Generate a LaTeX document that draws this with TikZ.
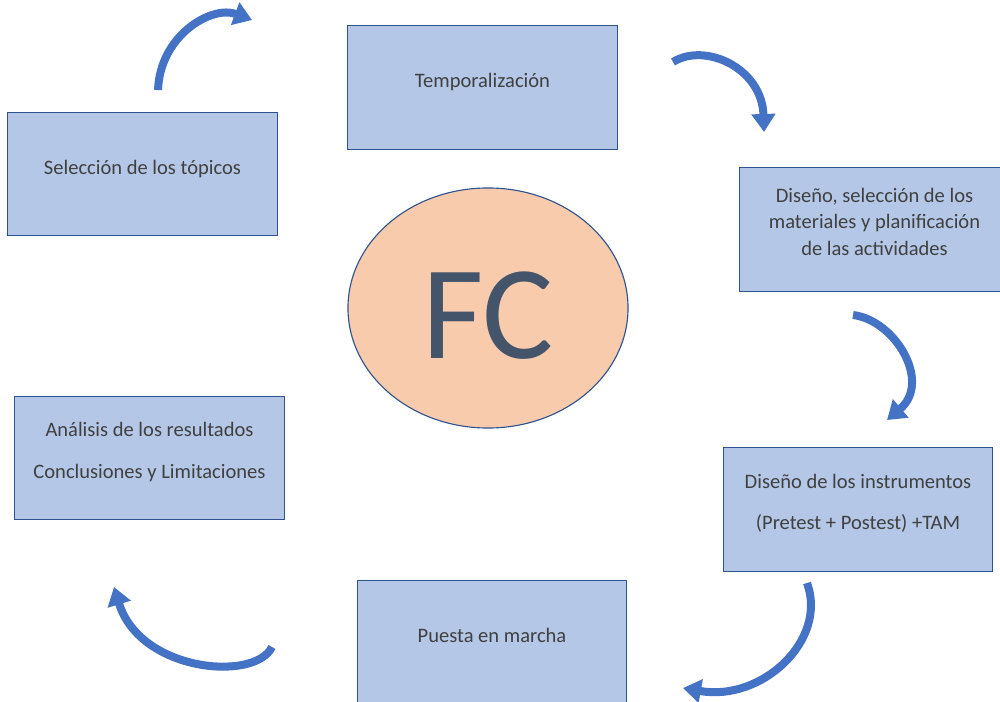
\documentclass[tikz,border=0pt]{standalone}
\usepackage{fontspec}
\setmainfont{Carlito}
\usetikzlibrary{shapes.geometric,arrows.meta}
\definecolor{cajaazul}{HTML}{B4C7E7}
\definecolor{bordeazul}{HTML}{2F528F}
\definecolor{flechaazul}{HTML}{4472C4}
\definecolor{elipsenaranja}{HTML}{F8CBAD}
\definecolor{textogris}{HTML}{404040}
\definecolor{fcgris}{HTML}{44546A}

\begin{document}
\begin{tikzpicture}[x=0.025cm, y=-0.025cm,
  caja/.style={draw=bordeazul, line width=0.8pt, fill=cajaazul, align=center,
               text=textogris, font=\fontsize{14.6}{18.8}\selectfont,
               inner sep=0pt, minimum width=6.74cm, minimum height=3.08cm},
  unalinea/.style={caja, text depth=10pt},
  variaslineas/.style={caja, text depth=11pt},
  fc/.style={ellipse, draw=bordeazul, line width=0.8pt, fill=elipsenaranja,
             text=fcgris, font=\fontsize{95}{100}\selectfont, inner sep=0pt,
             minimum width=7cm, minimum height=6cm, text height=72pt, text depth=0pt},
  flecha/.style={line width=0.2cm, draw=flechaazul,
                 -{Triangle[width=0.58cm, length=0.45cm]}}
]
  \useasboundingbox (0,0) rectangle (1000,702);

  \node[unalinea]     (tempo)        at (482.5, 87.5) {Temporalización};
  \node[unalinea]     (topicos)      at (142.5, 174)  {Selección de los tópicos};
  \node[variaslineas] (materiales)   at (874.5, 229.5)
       {Diseño, selección de los\\ materiales y planificación\\ de las actividades};
  \node[variaslineas] (instrumentos) at (858, 509.5)
       {Diseño de los instrumentos\\[10.6pt] (Pretest + Postest) +TAM};
  \node[unalinea]     (marcha)       at (492, 642.5)  {Puesta en marcha};
  \node[variaslineas] (analisis)     at (149.5, 458)
       {Análisis de los resultados\\[10.6pt] Conclusiones y Limitaciones};

  \node[fc] (fc) at (488, 308) {FC};

  % flechas curvas del ciclo
  \coordinate (c1a) at (158, 90);   \coordinate (c1b) at (252, 20);
  \coordinate (c2a) at (673, 62);   \coordinate (c2b) at (764, 132);
  \coordinate (c3a) at (853, 315);  \coordinate (c3b) at (887, 420);
  \coordinate (c4a) at (807, 583);  \coordinate (c4b) at (683, 688);
  \coordinate (c5a) at (272, 647);  \coordinate (c5b) at (114, 587);

  \draw[flecha] (c1a) .. controls (160, 35) and (212, 5) .. (c1b);
  \draw[flecha] (c2a) .. controls (705, 42) and (762, 68) .. (c2b);
  \draw[flecha] (c3a) .. controls (895, 320) and (932, 382) .. (c3b);
  \draw[flecha] (c4a) .. controls (828, 640) and (762, 702) .. (c4b);
  \draw[flecha] (c5a) .. controls (255, 682) and (140, 672) .. (c5b);
\end{tikzpicture}
\end{document}
